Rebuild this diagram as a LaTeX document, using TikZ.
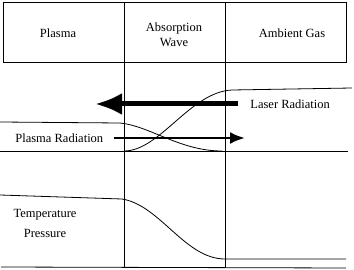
\documentclass[tikz,border=0pt]{standalone}
\usepackage{fontspec}
\setmainfont{Liberation Serif}
\usetikzlibrary{arrows.meta}
\begin{document}
\begin{tikzpicture}[x=1pt,y=-1pt,line width=0.8pt,
    lbl/.style={inner sep=0pt,font=\fontsize{12.5}{15}\selectfont,align=center}]
  \useasboundingbox (0,0) rectangle (354,270);
  % header
  \draw (3,2) rectangle (346,62);
  \node[lbl] (plasma) at (58,33) {Plasma};
  \node[lbl] (wave) at (174,35) {Absorption\\Wave};
  \node[lbl] (gas) at (292,33) {Ambient Gas};
  \draw (124,2) -- (124,268);
  \draw (225,2) -- (225,268);
  % radiation
  \draw (0,151) -- (348,151);
  \draw (124,151) .. controls (160,151) and (190,92) .. (232,90) -- (352,88);
  \draw (0,122) -- (120,123) .. controls (150,126) and (180,151) .. (222,151);
  \node[lbl,anchor=west] (laser) at (250,104) {Laser Radiation};
  \node[lbl,anchor=west] (plasmarad) at (15,138) {Plasma Radiation};
  \coordinate (lasertip) at (95,104);
  \coordinate (plasmatip) at (245,138);
  \draw[-{Latex[length=27pt,width=22pt]},line width=5pt]
    ([xshift=-12pt]laser.west) -- (lasertip);
  \draw[-{Latex[length=15pt,width=12pt]},line width=2.5pt]
    ([xshift=10pt]plasmarad.east) -- (plasmatip);
  % temperature
  \draw (0,195) -- (122,199) .. controls (160,205) and (185,259) .. (225,259) -- (346,259);
  \node[lbl,font=\fontsize{12.5}{20}\selectfont] (temp) at (45,223) {Temperature\\Pressure};
  \draw (1,267) -- (346,268);
\end{tikzpicture}
\end{document}
